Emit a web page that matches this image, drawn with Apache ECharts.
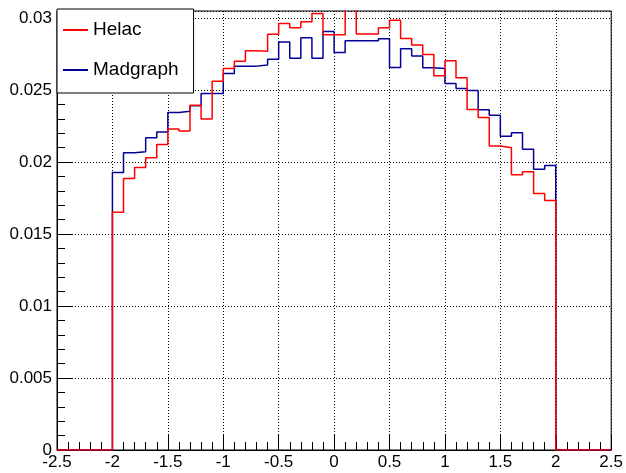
<!DOCTYPE html>
<html>
<head>
<meta charset="utf-8">
<script src="https://cdn.jsdelivr.net/npm/echarts@6/dist/echarts.min.js"></script>
<style>html,body{margin:0;padding:0;background:#fff;}#c{width:626px;height:473px;}</style>
</head>
<body>
<div id="c"></div>
<script>
// Bin left edges (bin width 0.1) from -2.0 to 1.9
var binLeft = [-2.0,-1.9,-1.8,-1.7,-1.6,-1.5,-1.4,-1.3,-1.2,-1.1,
               -1.0,-0.9,-0.8,-0.7,-0.6,-0.5,-0.4,-0.3,-0.2,-0.1,
                0.0, 0.1, 0.2, 0.3, 0.4, 0.5, 0.6, 0.7, 0.8, 0.9,
                1.0, 1.1, 1.2, 1.3, 1.4, 1.5, 1.6, 1.7, 1.8, 1.9];
var histEnd = 2.0;
var xRange = [-2.5, 2.5];
var yMax = 0.0305;

var helac = [0.01651,0.01887,0.01963,0.02030,0.02123,0.02231,0.02217,0.02396,0.02299,0.02562,
             0.02650,0.02701,0.02773,0.02771,0.02889,0.02963,0.02933,0.02975,0.03032,0.02885,
             0.02885,0.03150,0.02891,0.02891,0.02933,0.02986,0.02859,0.02813,0.02748,0.02600,
             0.02704,0.02586,0.02366,0.02310,0.02112,0.02100,0.01912,0.01933,0.01782,0.01733];

var madgraph = [0.01928,0.02065,0.02072,0.02169,0.02210,0.02345,0.02354,0.02391,0.02477,0.02477,
                0.02616,0.02667,0.02667,0.02674,0.02715,0.02834,0.02722,0.02865,0.02722,0.02907,
                0.02762,0.02843,0.02843,0.02843,0.02858,0.02657,0.02788,0.02738,0.02655,0.02650,
                0.02546,0.02512,0.02497,0.02364,0.02325,0.02180,0.02204,0.02089,0.01951,0.01977];

var seriesNames = ['Helac', 'Madgraph'];

function histData(vals) {
  var d = [[xRange[0], 0]];
  for (var i = 0; i < binLeft.length; i++) d.push([binLeft[i], vals[i]]);
  d.push([histEnd, 0]);
  d.push([xRange[1], 0]);
  return d;
}

var font = 'Liberation Sans';
var chart = echarts.init(document.getElementById('c'), null, {renderer: 'canvas'});
chart.setOption({
  animation: false,
  backgroundColor: '#fff',
  textStyle: {fontFamily: font},
  grid: {left: 57, right: 13, top: 11, bottom: 23, show: true, borderColor: '#000', borderWidth: 1, backgroundColor: '#fff'},
  legend: {
    data: seriesNames,
    orient: 'vertical',
    left: 57, top: 9,
    padding: [11, 15, 13, 5],
    itemGap: 20,
    itemWidth: 25,
    itemHeight: 20,
    borderColor: '#000',
    borderWidth: 1,
    borderRadius: 0,
    backgroundColor: '#fff',
    textStyle: {fontFamily: font, fontSize: 19, color: '#000', lineHeight: 20, padding: [0,0,0,0]},
    itemStyle: {opacity: 0}
  },
  xAxis: {
    type: 'value', min: xRange[0], max: xRange[1], interval: 0.5,
    axisLine: {onZero: false, lineStyle: {color: '#000', width: 1}},
    axisTick: {inside: true, length: 16, lineStyle: {color: '#000'}},
    minorTick: {show: true, splitNumber: 5, length: 8, lineStyle: {color: '#000'}},
    splitLine: {show: true, lineStyle: {color: '#000', type: [1, 2], width: 1}},
    axisLabel: {fontFamily: font, fontSize: 17, color: '#000', margin: 4, showMinLabel: true, showMaxLabel: true,
      formatter: function (v) { return String(+v.toFixed(2)); }}
  },
  yAxis: {
    type: 'value', min: 0, max: yMax, interval: 0.005,
    axisLine: {show: true, onZero: false, lineStyle: {color: '#000', width: 1}},
    axisTick: {show: true, inside: true, length: 16, lineStyle: {color: '#000'}},
    minorTick: {show: true, splitNumber: 5, length: 8, lineStyle: {color: '#000'}},
    splitLine: {show: true, lineStyle: {color: '#000', type: [1, 2], width: 1}},
    axisLabel: {fontFamily: font, fontSize: 17, color: '#000', margin: 5, showMaxLabel: false,
      formatter: function (v) { return String(+v.toFixed(4)); }}
  },
  series: [
    {name: 'Madgraph', type: 'line', step: 'end', symbol: 'none', clip: true,
     lineStyle: {color: '#000099', width: 1.5}, itemStyle: {color: '#000099'},
     data: histData(madgraph), z: 2},
    {name: 'Helac', type: 'line', step: 'end', symbol: 'none', clip: true,
     lineStyle: {color: '#ff0000', width: 1.5}, itemStyle: {color: '#ff0000'},
     data: histData(helac), z: 3}
  ]
});
</script>
</body>
</html>
